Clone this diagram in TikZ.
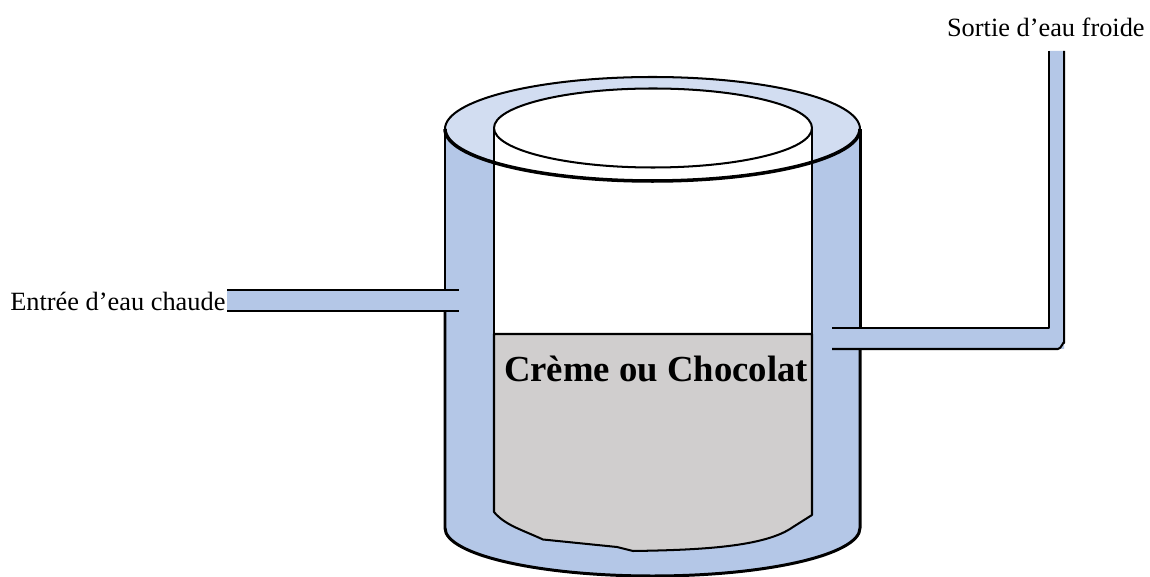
\documentclass[tikz,border=0pt]{standalone}
\usepackage{fontspec}
\setmainfont{Liberation Serif}
\definecolor{eauBleu}{HTML}{B4C7E7}
\definecolor{eauClair}{HTML}{D2DDF1}
\definecolor{cremeGris}{HTML}{D0CECE}
\tikzset{
  paroi/.style={draw=black,line width=1.7pt,line join=round},
  paroifine/.style={draw=black,line width=1.15pt,line join=round},
  legende/.style={font=\fontsize{15}{17}\selectfont,inner sep=0pt},
}
\begin{document}
\begin{tikzpicture}[x=0.02cm,y=-0.02cm]
  \useasboundingbox[fill=white] (0,0) rectangle (1150,577);
  % water jacket
  \fill[eauBleu] (445,129) -- (445,528) arc[start angle=180,end angle=0,x radius=207.5,y radius=48] -- (860,129) -- cycle;
  \draw[paroifine] (445,129) -- (445,290);
  \draw[paroi] (445,311) -- (445,528) arc[start angle=180,end angle=0,x radius=207.5,y radius=48] -- (860,349);
  \draw[paroi] (860,328) -- (860,129);
  % top ring
  \fill[eauClair] (652.5,129) ellipse[x radius=207.5,y radius=52];
  \fill[white] (494,128) rectangle (812,334);
  % pipes
  \fill[eauBleu] (227,290) rectangle (460,311);
  \draw[paroifine] (227,290) -- (459,290);
  \draw[paroifine] (227,311) -- (459,311);
  \fill[eauBleu] (832,328) -- (1049,328) -- (1049,51) -- (1064,51) -- (1064,349) -- (832,349) -- cycle;
  \draw[paroifine] (832,328) -- (1049,328) -- (1049,51);
  \draw[paroifine] (832,349) -- (1058,349) to[out=0,in=90] (1064,343) -- (1064,51);
  % cream
  \filldraw[paroifine,fill=cremeGris] (494,334) -- (494,512) .. controls (505,525) and (520,529) .. (543,539.5) -- (617,547) -- (633,551)
    .. controls (700,550) and (765,547) .. (793,527) -- (812,515) -- (812,334) -- cycle;
  \draw[paroifine] (494,128) -- (494,334);
  \draw[paroifine] (812,128) -- (812,334);
  % rims
  \filldraw[paroifine,fill=white] (653,128) ellipse[x radius=159,y radius=39.5];
  \draw[paroifine] (445,129) arc[start angle=180,end angle=360,x radius=207.5,y radius=52];
  \draw[draw=black,line width=2pt] (445,129) arc[start angle=180,end angle=0,x radius=207.5,y radius=52];
  % labels
  \node[legende,anchor=west] (entree) at (10,301) {Entrée d’eau chaude};
  \node[legende,anchor=east] (sortie) at (1145,27) {Sortie d’eau froide};
  \node[font=\fontsize{20.9}{24}\selectfont\bfseries,inner sep=0pt] (creme) at (656,369) {Crème ou Chocolat};
\end{tikzpicture}
\end{document}
